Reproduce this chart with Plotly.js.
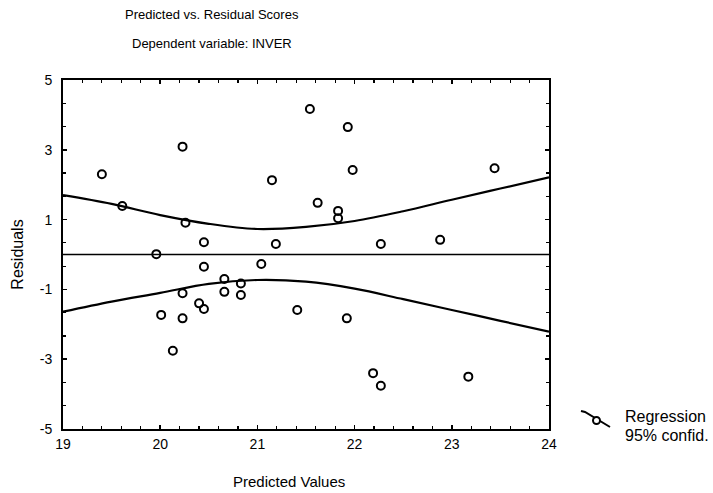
<!DOCTYPE html>
<html>
<head>
<meta charset="utf-8">
<script src="https://cdn.plot.ly/plotly-3.0.1.min.js"></script>
<style>html,body{margin:0;padding:0;background:#fff;}#chart{width:713px;height:493px;}</style>
</head>
<body>
<div id="chart"></div>
<script>
// Observed points (predicted value, residual)
var predicted = [19.40, 19.61, 19.96, 20.01, 20.13, 20.23, 20.26, 20.23, 20.23, 20.40,
                 20.45, 20.45, 20.45, 20.66, 20.66, 20.83, 20.83, 21.04, 21.15, 21.19,
                 21.41, 21.54, 21.62, 21.83, 21.83, 21.93, 21.98, 21.92, 22.19, 22.27,
                 22.27, 22.88, 23.17, 23.44];
var residuals = [2.30, 1.39, 0.01, -1.73, -2.76, 3.09, 0.91, -1.11, -1.83, -1.40,
                 -1.56, 0.35, -0.35, -0.70, -1.07, -0.83, -1.16, -0.27, 2.13, 0.30,
                 -1.59, 4.17, 1.48, 1.25, 1.04, 3.65, 2.42, -1.83, -3.40, -3.76,
                 0.30, 0.42, -3.50, 2.47];

// Regression line
var regX = [19, 24];
var regY = [0, 0];

// 95% confidence band
var bandX = [19, 19.5, 20, 20.5, 21, 21.5, 22, 22.5, 23, 23.5, 24];
var bandUpper = [1.70, 1.45, 1.13, 0.88, 0.73, 0.79, 0.96, 1.24, 1.57, 1.89, 2.21];
var bandLower = [-1.64, -1.35, -1.10, -0.84, -0.73, -0.78, -0.98, -1.28, -1.59, -1.90, -2.21];

var xTicks = [19, 20, 21, 22, 23, 24];
var yTicks = [-5, -3, -1, 1, 3, 5];

var FONT = 'Liberation Sans, Arial, sans-serif';

var traces = [
  {x: regX, y: regY, mode: 'lines', line: {color: '#000', width: 1.6}, hoverinfo: 'skip'},
  {x: bandX, y: bandUpper, mode: 'lines', line: {color: '#000', width: 2.2, shape: 'spline'}},
  {x: bandX, y: bandLower, mode: 'lines', line: {color: '#000', width: 2.2, shape: 'spline'}},
  {x: predicted, y: residuals, mode: 'markers', type: 'scatter',
   marker: {symbol: 'circle-open', size: 8, color: '#000', line: {color: '#000', width: 2}}}
];

var axisCommon = {
  showgrid: false, zeroline: false, showline: true, linecolor: '#000', linewidth: 2,
  mirror: 'allticks', ticks: 'inside', ticklen: 4, tickwidth: 1.5, tickcolor: '#000',
  tickfont: {family: FONT, size: 14, color: '#000'}
};

var layout = {
  width: 713, height: 493,
  margin: {l: 63, r: 164, t: 80, b: 64},
  paper_bgcolor: '#fff', plot_bgcolor: '#fff',
  showlegend: false,
  font: {family: FONT, color: '#000'},
  xaxis: Object.assign({}, axisCommon, {
    range: [19, 24], tickmode: 'array', tickvals: xTicks, ticktext: xTicks.map(String),
    ticklabelstandoff: 1,
    minor: {dtick: 0.2, tick0: 19, ticks: 'inside', ticklen: 3, tickwidth: 1.2, tickcolor: '#000'}
  }),
  yaxis: Object.assign({}, axisCommon, {
    range: [-5, 5], tickmode: 'array', tickvals: yTicks, ticktext: yTicks.map(String),
    ticklabelstandoff: 6,
    minor: {dtick: 2/3, tick0: -5, ticks: 'inside', ticklen: 3, tickwidth: 1.2, tickcolor: '#000'},
    title: {text: 'Residuals', font: {family: FONT, size: 16, color: '#000'}, standoff: 12}
  }),
  annotations: [
    {xref: 'paper', yref: 'paper', x: 0.307, y: 1, yshift: 66, xanchor: 'center', yanchor: 'middle',
     showarrow: false, text: 'Predicted vs. Residual Scores', font: {family: FONT, size: 13, color: '#000'}},
    {xref: 'paper', yref: 'paper', x: 0.307, y: 1, yshift: 37, xanchor: 'center', yanchor: 'middle',
     showarrow: false, text: 'Dependent variable: INVER', font: {family: FONT, size: 13, color: '#000'}},
    {xref: 'paper', yref: 'paper', x: 0.465, y: 0, yshift: -52, xanchor: 'center', yanchor: 'middle',
     showarrow: false, text: 'Predicted Values', font: {family: FONT, size: 15, color: '#000'}},
    {xref: 'paper', yref: 'paper', x: 1, xshift: 74, y: 0, yshift: 13, xanchor: 'left', yanchor: 'middle',
     showarrow: false, text: 'Regression', font: {family: FONT, size: 16, color: '#000'}},
    {xref: 'paper', yref: 'paper', x: 1, xshift: 74, y: 0, yshift: -6, xanchor: 'left', yanchor: 'middle',
     showarrow: false, text: '95% confid.', font: {family: FONT, size: 16, color: '#000'}}
  ],
  shapes: [
    {type: 'path', xref: 'paper', yref: 'paper', xsizemode: 'pixel', ysizemode: 'pixel',
     xanchor: 1, yanchor: 0,
     path: 'M 32 18 L 36 17 L 61 2', line: {color: '#000', width: 2}},
    {type: 'circle', xref: 'paper', yref: 'paper', xsizemode: 'pixel', ysizemode: 'pixel',
     xanchor: 1, yanchor: 0, x0: 44, x1: 51, y0: 5, y1: 12,
     line: {color: '#000', width: 2}, fillcolor: '#fff'}
  ]
};

Plotly.newPlot('chart', traces, layout, {displayModeBar: false, staticPlot: true});
</script>
</body>
</html>
